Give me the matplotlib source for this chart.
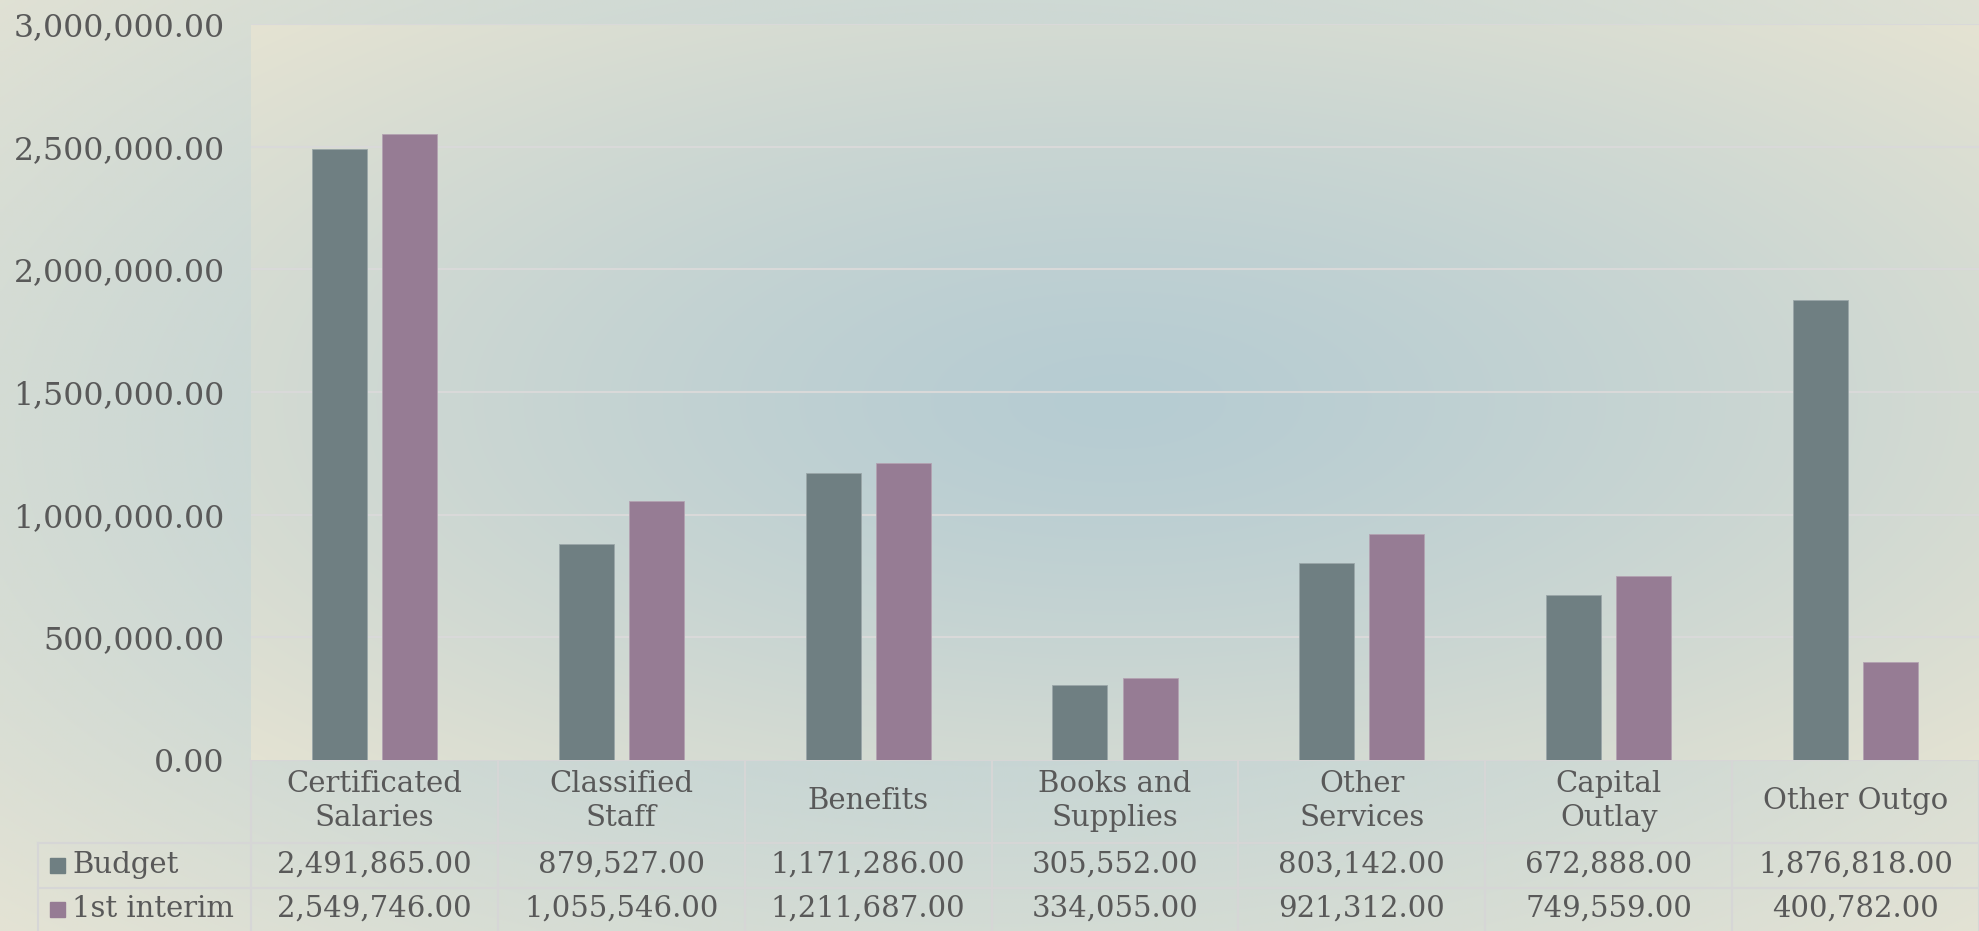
import numpy as np
import matplotlib
matplotlib.use("Agg")
import matplotlib.pyplot as plt

# data
categories = ["Certificated\nSalaries", "Classified\nStaff", "Benefits", "Books and\nSupplies",
              "Other\nServices", "Capital\nOutlay", "Other Outgo"]
series_names = ["Budget", "1st interim"]
budget  = [2491865, 879527, 1171286, 305552, 803142, 672888, 1876818]
interim = [2549746, 1055546, 1211687, 334055, 921312, 749559, 400782]
yticks = [0, 500000, 1000000, 1500000, 2000000, 2500000, 3000000]

c_budget = "#6f7f82"
c_interim = "#967c94"
txt = "#595959"
grid = "#d9d9d9"
plt.rcParams['font.family'] = ['DejaVu Serif']
fs = 21

W, H = 1979, 931
fig = plt.figure(figsize=(W/100, H/100), dpi=100)

def radial(w, h, cx, cy, inner, outer, power=1.0):
    x = np.arange(w)[None, :]
    y = np.arange(h)[:, None]
    rx = max(cx, w - cx)
    ry = max(cy, h - cy)
    r = np.sqrt(((x - cx) / rx) ** 2 + ((y - cy) / ry) ** 2) / np.sqrt(2)
    r = np.clip(r, 0, 1) ** power
    a = np.array(matplotlib.colors.to_rgb(inner))
    b = np.array(matplotlib.colors.to_rgb(outer))
    return a[None, None, :] * (1 - r[..., None]) + b[None, None, :] * r[..., None]

# chart-area background + table
bg = fig.add_axes([0, 0, 1, 1])
bg.set_xlim(0, W)
bg.set_ylim(H, 0)
bg.axis("off")
bg.imshow(radial(W // 4, H // 4, 1000 / 4, 430 / 4, "#b9cfd4", "#e4e3d4", 1.4),
          extent=[0, W, H, 0], aspect="auto", interpolation="bilinear", zorder=0)

L, R, T, B = 251, 1979, 24, 760
ax = fig.add_axes([L / W, (H - B) / H, (R - L) / W, (B - T) / H])
ax.set_zorder(2)
pw, ph = 400, 200
ax.imshow(radial(pw, ph, pw * (1115 - L) / (R - L), ph * (400 - T) / (B - T),
                 "#b6ccd2", "#e5e3d3", 1.3),
          extent=[0, 1, 0, 1], transform=ax.transAxes, aspect="auto",
          interpolation="bilinear", zorder=0)

x = np.arange(len(categories))
bw = 0.223
off = 0.142
ax.bar(x - off, budget, bw, color=c_budget, edgecolor="#9aa6a8", linewidth=0.6, zorder=3)
ax.bar(x + off, interim, bw, color=c_interim, edgecolor="#b3a2b1", linewidth=0.6, zorder=3)
ax.set_xlim(-0.5, len(categories) - 0.5)
ax.set_ylim(0, 3000000)
ax.set_yticks(yticks)
ax.set_yticklabels([f"{v:,.2f}" for v in yticks], fontsize=22.7, color=txt)
ax.tick_params(axis="y", length=0, pad=19)
ax.set_xticks([])
for v in yticks[1:]:
    ax.axhline(v, color=grid, lw=1.5, zorder=1)
for s in ax.spines.values():
    s.set_visible(False)

# data table
colw = (R - L) / len(categories)
row1, row2, bot = 843, 888, 931
tl = 38
lc = "#d6d6d6"
lw = 1.5
bg.plot([L, R], [B, B], color=lc, lw=lw, zorder=2)
bg.plot([tl, R], [row1, row1], color=lc, lw=lw, zorder=2)
bg.plot([tl, R], [row2, row2], color=lc, lw=lw, zorder=2)
bg.plot([tl, tl], [row1, bot], color=lc, lw=lw, zorder=2)
for k in range(len(categories) + 1):
    xx = L + k * colw
    bg.plot([xx, xx], [B, bot], color=lc, lw=lw, zorder=2)

for i, cat in enumerate(categories):
    cx = L + (i + 0.5) * colw
    bg.text(cx, 801, cat, ha="center", va="center", fontsize=fs, color=txt,
            linespacing=1.3, zorder=3)
    bg.text(cx, 865, f"{budget[i]:,.2f}", ha="center", va="center", fontsize=fs,
            color=txt, zorder=3)
    bg.text(cx, 909, f"{interim[i]:,.2f}", ha="center", va="center", fontsize=fs,
            color=txt, zorder=3)

for name, col, yc in [(series_names[0], c_budget, 865), (series_names[1], c_interim, 909)]:
    bg.add_patch(plt.Rectangle((50, yc - 7), 15, 15, color=col, zorder=3))
    bg.text(72, yc, name, ha="left", va="center", fontsize=fs, color=txt, zorder=3)

fig.savefig("out.png", dpi=100)
